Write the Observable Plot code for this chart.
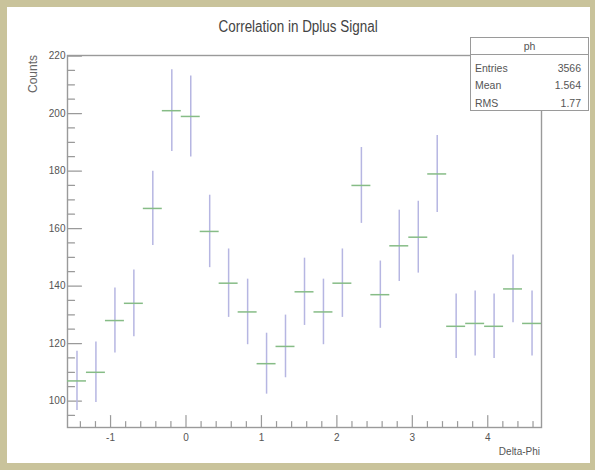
<!DOCTYPE html>
<html>
<head>
<meta charset="utf-8">
<script src="https://cdn.jsdelivr.net/npm/d3@7"></script>
<script src="https://cdn.jsdelivr.net/npm/@observablehq/plot@0.6"></script>
<style>
html, body { margin: 0; padding: 0; }
body { width: 595px; height: 470px; background: #c9c39b; position: relative; overflow: hidden;
  font-family: "Liberation Sans", Arial, sans-serif; }
#panel { position: absolute; left: 7px; top: 7px; width: 583px; height: 456px; background: #fff; }
#chart { position: absolute; left: 0; top: 0; }
#title { position: absolute; left: 0; width: 595px; top: 17px; line-height: 20px; text-align: center; font-size: 16px; color: #444;
  transform: scaleX(0.84); transform-origin: 301px 0; }
#xlab { position: absolute; left: 440px; width: 100px; top: 445px; line-height: 14px; text-align: right; font-size: 10px; color: #555; }
#ylab { position: absolute; left: 0; top: 0; width: 60px; height: 14px; line-height: 14px; text-align: right; font-size: 12px; color: #666;
  transform-origin: 0 0; transform: translate(26px, 115px) rotate(-90deg); }
#stats { position: absolute; left: 470px; top: 37px; width: 119px; height: 74px; border: 1px solid #9a9a9a; background: #fff; box-sizing: border-box; font-size: 10.5px; color: #555; }
#stats .hdr { position: absolute; left: 0; top: 0; width: 100%; height: 16px; line-height: 16px; text-align: center; border-bottom: 1px solid #9a9a9a; }
#stats .row { position: absolute; left: 4px; right: 7px; height: 14px; line-height: 14px; display: flex; justify-content: space-between; }
</style>
</head>
<body>
<div id="panel"></div>
<div id="chart"></div>
<div id="title">Correlation in Dplus Signal</div>
<div id="ylab">Counts</div>
<div id="xlab">Delta-Phi</div>
<div id="stats">
  <div class="hdr">ph</div>
  <div class="row" style="top:23px"><span>Entries</span><span>3566</span></div>
  <div class="row" style="top:40px"><span>Mean</span><span>1.564</span></div>
  <div class="row" style="top:58px"><span>RMS</span><span>1.77</span></div>
</div>
<script>
// Bin centres (Delta-Phi), counts and their error bars
const phi = [-1.445, -1.194, -0.942, -0.691, -0.440, -0.188, 0.063, 0.314, 0.565, 0.817,
             1.068, 1.319, 1.571, 1.822, 2.073, 2.325, 2.576, 2.827, 3.079, 3.330,
             3.581, 3.833, 4.084, 4.335, 4.587];
const counts = [107, 110, 128, 134, 167, 201, 199, 159, 141, 131,
                113, 119, 138, 131, 141, 175, 137, 154, 157, 179,
                126, 127, 126, 139, 127];
const errors = [10.3, 10.5, 11.3, 11.6, 12.9, 14.2, 14.1, 12.6, 11.9, 11.4,
                10.6, 10.9, 11.7, 11.4, 11.9, 13.2, 11.7, 12.4, 12.5, 13.4,
                11.2, 11.3, 11.2, 11.8, 11.3];
const halfBin = 0.1257;

const xMajor = [-1, 0, 1, 2, 3, 4];
const xMinor = [-1.4, -1.2, -0.8, -0.6, -0.4, -0.2, 0.2, 0.4, 0.6, 0.8, 1.2, 1.4, 1.6, 1.8,
                2.2, 2.4, 2.6, 2.8, 3.2, 3.4, 3.6, 3.8, 4.2, 4.4, 4.6];
const yMajor = [100, 120, 140, 160, 180, 200, 220];
const yMinor = [95, 105, 110, 115, 125, 130, 135, 145, 150, 155, 165, 170, 175,
                185, 190, 195, 205, 210, 215];

const data = phi.map((p, i) => ({phi: p, n: counts[i], e: errors[i]}));

const tickShape = {draw(ctx, l) { ctx.moveTo(0, 0); ctx.lineTo(0, -l); }};
const axisColor = "#9a9a9a";

const chart = Plot.plot({
  width: 595,
  height: 470,
  marginLeft: 67,
  marginRight: 54,
  marginTop: 55,
  marginBottom: 43,
  style: {background: "transparent", fontFamily: '"Liberation Sans", Arial, sans-serif', fontSize: "10px", color: "#555", overflow: "visible"},
  x: {domain: [-Math.PI / 2, 3 * Math.PI / 2], axis: null},
  y: {domain: [90.8, 220.2], axis: null},
  marks: [
    Plot.frame({stroke: axisColor, strokeWidth: 1.4}),
    Plot.vector(xMajor, {x: d => d, frameAnchor: "bottom", length: 12, anchor: "start", shape: tickShape, stroke: axisColor, strokeWidth: 1.2}),
    Plot.vector(xMinor, {x: d => d, frameAnchor: "bottom", length: 6, anchor: "start", shape: tickShape, stroke: axisColor, strokeWidth: 1.2}),
    Plot.vector(yMajor, {y: d => d, frameAnchor: "left", rotate: 90, length: 14, anchor: "start", shape: tickShape, stroke: axisColor, strokeWidth: 1.2}),
    Plot.vector(yMinor, {y: d => d, frameAnchor: "left", rotate: 90, length: 7, anchor: "start", shape: tickShape, stroke: axisColor, strokeWidth: 1.2}),
    Plot.text(xMajor, {x: d => d, frameAnchor: "bottom", dy: 6, lineAnchor: "top", text: d => String(d), fill: "#555"}),
    Plot.text(yMajor, {y: d => d, frameAnchor: "left", dx: -2, textAnchor: "end", text: d => String(d), fill: "#555"}),
    Plot.ruleX(data, {x: "phi", y1: d => d.n - d.e, y2: d => d.n + d.e, stroke: "#b6b6e2", strokeWidth: 1.5}),
    Plot.ruleY(data, {y: "n", x1: d => d.phi - halfBin, x2: d => d.phi + halfBin, stroke: "#86bc86", strokeWidth: 1.5})
  ]
});
document.getElementById("chart").appendChild(chart);
</script>
</body>
</html>
